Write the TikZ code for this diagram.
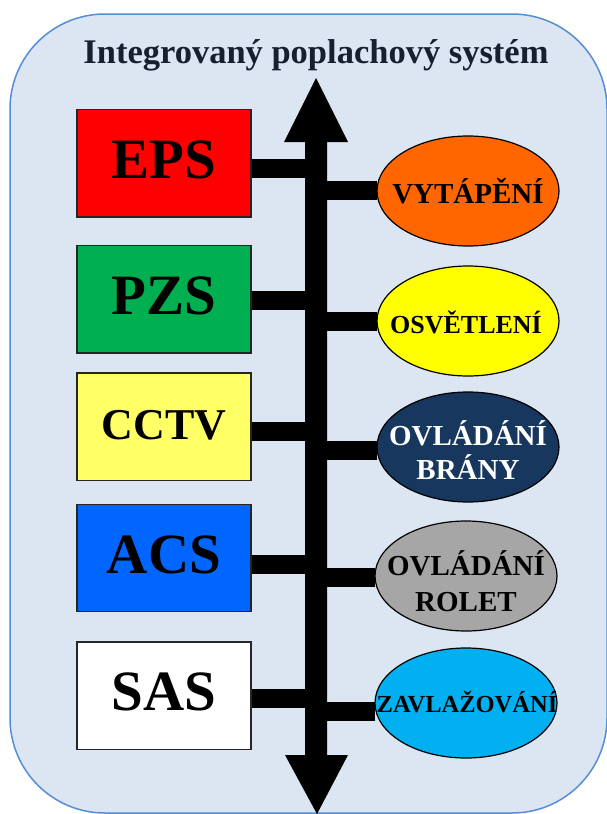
\documentclass[tikz,border=0pt]{standalone}
\usepackage{fontspec}
\setmainfont{Liberation Serif}
\usetikzlibrary{shapes.geometric}
\definecolor{bgfill}{HTML}{DCE6F2}
\definecolor{bgline}{HTML}{558ED5}
\definecolor{titlecol}{HTML}{17202F}
\definecolor{cred}{HTML}{FF0000}
\definecolor{cgreen}{HTML}{00B050}
\definecolor{cyel}{HTML}{FFFF66}
\definecolor{cblue}{HTML}{0066FF}
\definecolor{corange}{HTML}{FF6600}
\definecolor{cyel2}{HTML}{FFFF00}
\definecolor{cnavy}{HTML}{17375E}
\definecolor{cgray}{HTML}{A6A6A6}
\definecolor{ccyan}{HTML}{00B0F0}
\tikzset{
  sysbox/.style={draw=black!85, line width=1.3pt, minimum width=174pt, minimum height=107.5pt,
    inner sep=0pt, font=\bfseries\fontsize{57}{60}\selectfont, text height=38pt, text depth=8pt},
  smallbox/.style={sysbox, font=\bfseries\fontsize{44}{48}\selectfont, text height=29pt, text depth=3pt},
  oval/.style={ellipse, draw=black, line width=1.2pt, minimum width=182pt, minimum height=110pt,
    inner sep=0pt},
  ovaltext/.style={inner sep=0pt, align=center, font=\bfseries\fontsize{29}{35}\selectfont},
  conn/.style={draw=black, line width=19pt, line cap=butt},
}
\begin{document}
\begin{tikzpicture}[x=1pt,y=-1pt]
\useasboundingbox (0,0) rectangle (606,814);
\draw[fill=bgfill, draw=bgline, line width=1.5pt, rounded corners=95pt] (10,14) rectangle (607,813);
\node[anchor=base, text=titlecol, font=\bfseries\fontsize{34.5}{40}\selectfont] (title) at (316,63) {Integrovaný poplachový systém};
% spine coordinates
\coordinate (spine) at (316,0);
\coordinate (spinetop) at (316,78);
\coordinate (spinebot) at (317,814);
% left boxes
\node[sysbox, fill=cred] (eps) at (164,163.3) {EPS};
\node[sysbox, fill=cgreen] (pzs) at (164,299.3) {PZS};
\node[smallbox, fill=cyel] (cctv) at (164,426.7) {CCTV};
\node[sysbox, fill=cblue] (acs) at (164,558) {ACS};
\node[sysbox, fill=white] (sas) at (164,695.7) {SAS};
% connectors left
\draw[conn] ([yshift=-4.7pt]eps.east) -- ([yshift=-4.7pt]eps.east -| spine);
\draw[conn] ([yshift=-0.7pt]pzs.east) -- ([yshift=-0.7pt]pzs.east -| spine);
\draw[conn] ([yshift=-4.3pt]cctv.east) -- ([yshift=-4.3pt]cctv.east -| spine);
\draw[conn] ([yshift=-6pt]acs.east) -- ([yshift=-6pt]acs.east -| spine);
\draw[conn] ([yshift=-2.3pt]sas.east) -- ([yshift=-2.3pt]sas.east -| spine);
% ellipses
\node[oval, fill=corange] (vyt) at (468,191) {};
\node[oval, fill=cyel2] (osv) at (468,321) {};
\node[oval, fill=cnavy] (bra) at (468,447) {};
\node[oval, fill=cgray] (rol) at (466,576) {};
\node[oval, fill=ccyan] (zav) at (466,703) {};
% connectors right
\draw[conn] ([yshift=1pt,xshift=1pt]vyt.west) -- ([yshift=1pt]vyt.west -| spine);
\draw[conn] ([xshift=1pt]osv.west) -- (osv.west -| spine);
\draw[conn] ([yshift=-3pt,xshift=1pt]bra.west) -- ([yshift=-3pt]bra.west -| spine);
\draw[conn] ([yshift=-1pt,xshift=1pt]rol.west) -- ([yshift=-1pt]rol.west -| spine);
\draw[conn] ([yshift=-8pt,xshift=1pt]zav.west) -- ([yshift=-8pt]zav.west -| spine);
% ellipse texts
\node[ovaltext, anchor=base] (vytt) at (468,203) {VYTÁPĚNÍ};
\node[ovaltext, anchor=base, font=\bfseries\fontsize{26}{30}\selectfont] (osvt) at (466,333) {OSVĚTLENÍ};
\node[ovaltext, anchor=base, text=white] (brat1) at (468,445) {OVLÁDÁNÍ};
\node[ovaltext, anchor=base, text=white] (brat2) at (468,479) {BRÁNY};
\node[ovaltext, anchor=base] (rolt1) at (466,575) {OVLÁDÁNÍ};
\node[ovaltext, anchor=base] (rolt2) at (466,611) {ROLET};
\node[ovaltext, anchor=base, font=\bfseries\fontsize{24.5}{28}\selectfont] (zavt) at (467,712.5) {ZAVLAŽOVÁNÍ};
% spine double arrow
\fill[black] (spinetop) -- (348,142) -- (327,142) -- (327,755) -- (348,755) -- (spinebot)
  -- (285,755) -- (305,755) -- (305,142) -- (284,142) -- cycle;
\end{tikzpicture}
\end{document}
